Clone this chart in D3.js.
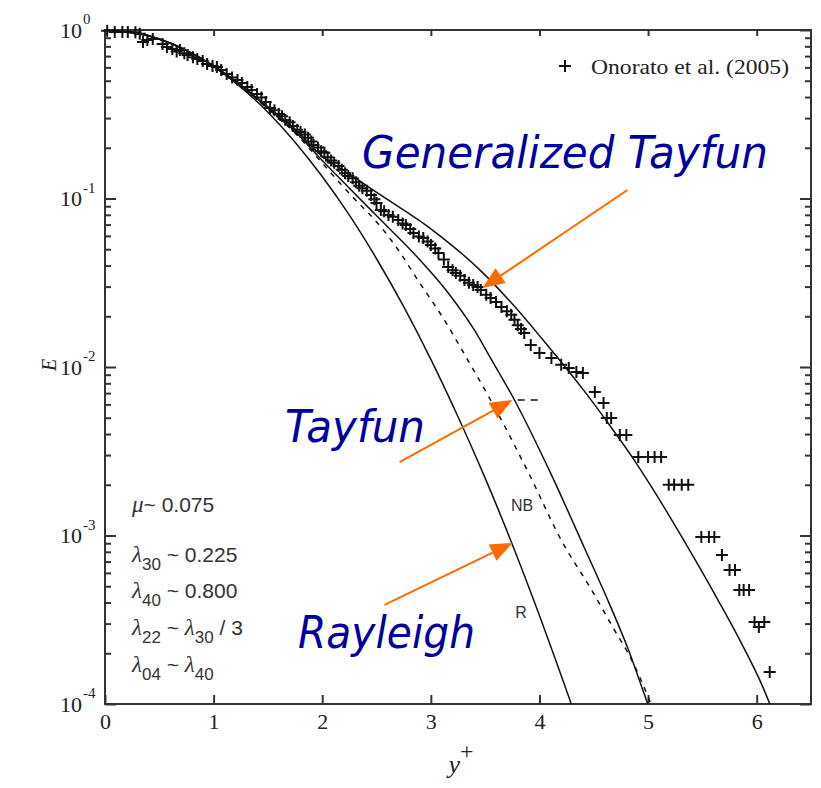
<!DOCTYPE html>
<html>
<head>
<meta charset="utf-8">
<script src="https://cdn.jsdelivr.net/npm/d3@7"></script>
<style>
  body { margin: 0; background: #fff; }
</style>
</head>
<body>
<div id="chart"></div>
<script>
// Onorato et al. (2005) exceedance points [y+, E]
var onorato = [
  [0.02,0.99],[0.09,0.973],[0.16,0.973],[0.21,0.973],[0.28,0.97],[0.32,0.95],[0.35,0.849],[0.39,0.872],
  [0.44,0.885],[0.53,0.826],[0.57,0.793],[0.62,0.771],[0.69,0.761],[0.76,0.711],[0.85,0.673],[0.94,0.628],
  [1.03,0.603],[1.12,0.548],[1.22,0.505],[1.31,0.459],[1.40,0.417],[1.48,0.374],[1.52,0.344],[1.60,0.317],
  [1.66,0.292],[1.73,0.269],[1.80,0.248],[1.87,0.229],[1.92,0.208],[1.99,0.191],[2.05,0.176],[2.11,0.163],
  [2.18,0.148],[2.24,0.136],[2.31,0.125],[2.37,0.115],[2.45,0.105],[2.50,0.094],[2.54,0.0855],[2.61,0.0798],
  [2.70,0.0745],[2.77,0.0696],[2.84,0.0624],[2.93,0.0583],[3.00,0.053],[3.07,0.0475],[3.16,0.0392],[3.23,0.0361],
  [3.31,0.0328],[3.39,0.0307],[3.46,0.0286],[3.55,0.0257],[3.65,0.0227],[3.74,0.0204],[3.80,0.0177],[3.86,0.0159],
  [3.92,0.0135],[4.00,0.0121],[4.11,0.0113],[4.20,0.0103],[4.27,0.00986],[4.34,0.00934],[4.40,0.00921],
  [4.51,0.00711],[4.59,0.00611],[4.62,0.00498],[4.66,0.00498],[4.74,0.00395],[4.80,0.00395],
  [4.91,0.00292],[5.00,0.00292],[5.06,0.00292],[5.12,0.00292],[5.19,0.002],[5.24,0.002],[5.31,0.002],[5.37,0.002],
  [5.49,0.00098],[5.56,0.00098],[5.61,0.00098],[5.68,0.000766],[5.75,0.000624],[5.80,0.000624],
  [5.84,0.000475],[5.88,0.000475],[5.93,0.000475],[5.98,0.000307],[6.02,0.000286],[6.07,0.000307],[6.12,0.000155]
];
// second row of crosses in the dense part of the band
var onoratoBand = [
  [0.66,0.745],[0.73,0.728],[0.81,0.69],[0.90,0.655],[0.99,0.612],[1.07,0.578],[1.17,0.522],[1.26,0.485],
  [1.35,0.44],[1.44,0.398],[1.56,0.334],[1.63,0.308],[1.70,0.283],[1.77,0.256],[1.84,0.24],[1.90,0.218],
  [1.96,0.201],[2.02,0.187],[2.08,0.168],[2.15,0.156],[2.21,0.141],[2.28,0.132],[2.34,0.119],[2.41,0.111],
  [2.48,0.099],[2.57,0.084],[2.65,0.078],[2.74,0.071],[2.81,0.066],[2.89,0.0595],[2.97,0.0555],[3.04,0.0505],
  [3.12,0.0435],[3.20,0.0375],[3.27,0.0348],[3.35,0.0316],[3.43,0.0298],[3.51,0.0268],[3.60,0.0243],
  [3.70,0.0214],[3.77,0.0191],[3.83,0.0168]
];

// model curves [y+, E]
var rayleigh = [
  [0,1],[0.25,0.969],[0.5,0.882],[0.75,0.755],[1,0.607],[1.25,0.458],[1.5,0.325],[1.75,0.216],[2,0.135],
  [2.25,0.0796],[2.5,0.0439],[2.75,0.0228],[3,0.0111],[3.25,0.00507],[3.5,0.00219],[3.75,0.000885],
  [4,0.000335],[4.15,0.000182],[4.3,0.0000972],[4.4,0.000063]
];
var tayfun = [
  [0,1],[0.5,0.885],[1,0.612],[1.5,0.345],[1.75,0.25],[2,0.168],[2.25,0.115],[2.54,0.0745],[2.84,0.0475],
  [3.16,0.0275],[3.4,0.0166],[3.55,0.0113],[3.77,0.00637],[4.11,0.00229],[4.41,0.000855],[4.64,0.000398],
  [4.82,0.000209],[4.96,0.000117],[5.05,0.00008]
];
var narrowBand = [
  [0,1],[0.5,0.885],[1,0.61],[1.5,0.34],[1.75,0.245],[2,0.162],[2.25,0.107],[2.54,0.0678],[2.7,0.0495],
  [2.88,0.0328],[3.12,0.0192],[3.34,0.011],[3.55,0.00637],[3.9,0.00235],[4.2,0.00094],[4.48,0.000475],
  [4.69,0.000275],[4.85,0.000182],[5.0,0.00011],[5.08,0.00008]
];
var genTayfun = [
  [0,1],[0.5,0.885],[1,0.615],[1.5,0.35],[1.75,0.258],[2,0.178],[2.25,0.1396],[2.54,0.1047],[3.0,0.0661],
  [3.46,0.0372],[3.77,0.0229],[4.02,0.0148],[4.2,0.0107],[4.41,0.00724],[4.64,0.00457],[4.86,0.00288],
  [5.03,0.00195],[5.22,0.00123],[5.43,0.000724],[5.65,0.000407],[5.86,0.000229],[6.05,0.000129],[6.15,0.00009]
];
var nbKey = [[3.80,0.00637],[4.03,0.00637]];

// tick labels
var xTicks = [0, 1, 2, 3, 4, 5, 6];
var yTicks = [1, 0.1, 0.01, 0.001, 0.0001];
var yExponents = ["0", "-1", "-2", "-3", "-4"];

// arrows: [from, to] in data units
var arrows = [
  [[4.81, 0.1123], [3.475, 0.02944]],
  [[2.712, 0.00273], [3.751, 0.00637]],
  [[2.574, 0.000387], [3.751, 0.000903]]
];

var margin = {top: 30, right: 10, bottom: 84, left: 105},
    width = 821 - margin.left - margin.right,
    height = 788 - margin.top - margin.bottom;

var x = d3.scaleLinear().domain([0, 6.5]).range([0, width]);
var y = d3.scaleLog().domain([1e-4, 1]).range([height, 0]);

var svg = d3.select("#chart").append("svg")
    .attr("width", 821)
    .attr("height", 788)
  .append("g")
    .attr("transform", "translate(" + margin.left + "," + margin.top + ")");

svg.append("defs").append("clipPath").attr("id", "plot")
  .append("rect").attr("width", width).attr("height", height);

var serif = "'Liberation Serif', 'Times New Roman', serif";
var sans = "'Liberation Sans', Arial, sans-serif";

function isMajor(d) {
  var l = Math.log10(d);
  return Math.abs(l - Math.round(l)) < 1e-6;
}

// y axes (left and right), ticks inside
var yAll = y.ticks();
var yl = svg.append("g").call(d3.axisLeft(y).tickValues(yAll).tickSize(-6).tickFormat(""));
var yr = svg.append("g").attr("transform", "translate(" + width + ",0)")
  .call(d3.axisRight(y).tickValues(yAll).tickSize(-6).tickFormat(""));
yl.selectAll(".tick line").filter(isMajor).attr("x2", 11);
yr.selectAll(".tick line").filter(isMajor).attr("x2", -11);

// x axes (bottom and top)
var xb = svg.append("g").attr("transform", "translate(0," + height + ")")
  .call(d3.axisBottom(x).tickValues(xTicks).tickSize(-9).tickPadding(9).tickFormat(d3.format("d")));
svg.append("g").call(d3.axisTop(x).tickValues(xTicks).tickSize(-6).tickFormat(""));
xb.selectAll("text").style("font-family", serif).style("font-size", "22px").attr("fill", "#222");

svg.selectAll(".domain").remove();
svg.selectAll(".tick line").attr("stroke", "#333").attr("stroke-width", 2);

// y tick labels 10^n
yTicks.forEach(function(v, i) {
  svg.append("text")
    .attr("x", -23).attr("y", y(v)).attr("dy", "0.36em")
    .attr("text-anchor", "end")
    .style("font-family", serif).style("font-size", "22px").attr("fill", "#222")
    .text("10");
  svg.append("text")
    .attr("x", -22).attr("y", y(v) - 6)
    .style("font-family", serif).style("font-size", "15px").attr("fill", "#222")
    .text(yExponents[i]);
});

// frame
svg.append("rect")
  .attr("width", width).attr("height", height)
  .attr("fill", "none").attr("stroke", "#333").attr("stroke-width", 2);

// curves
var line = d3.line()
  .x(function(d) { return x(d[0]); })
  .y(function(d) { return y(d[1]); })
  .curve(d3.curveMonotoneX);

var curves = svg.append("g").attr("clip-path", "url(#plot)");
[rayleigh, tayfun, genTayfun].forEach(function(s) {
  curves.append("path").datum(s).attr("d", line)
    .attr("fill", "none").attr("stroke", "#111").attr("stroke-width", 1.5);
});
curves.append("path").datum(narrowBand).attr("d", line)
  .attr("fill", "none").attr("stroke", "#111").attr("stroke-width", 1.5)
  .attr("stroke-dasharray", "5,6");
curves.append("path").datum(nbKey).attr("d", d3.line().x(function(d) { return x(d[0]); }).y(function(d) { return y(d[1]); }))
  .attr("fill", "none").attr("stroke", "#111").attr("stroke-width", 1.5)
  .attr("stroke-dasharray", "7,6");

// data points
var plus = "M-6,0H6M0,-6V6";
svg.append("g").selectAll("path")
  .data(onorato.concat(onoratoBand))
  .enter().append("path")
    .attr("d", plus)
    .attr("transform", function(d) { return "translate(" + x(d[0]) + "," + y(d[1]) + ")"; })
    .attr("fill", "none").attr("stroke", "#111").attr("stroke-width", 2);

// legend
svg.append("path").attr("d", plus).attr("transform", "translate(" + (565 - margin.left) + "," + (66 - margin.top) + ")")
  .attr("fill", "none").attr("stroke", "#111").attr("stroke-width", 2);
svg.append("text")
  .attr("x", 591 - margin.left).attr("y", 74 - margin.top)
  .attr("textLength", 198).attr("lengthAdjust", "spacingAndGlyphs")
  .style("font-family", serif).style("font-size", "22px").attr("fill", "#222")
  .text("Onorato et al. (2005)");

// orange arrows
var orange = "#ff6a00";
arrows.forEach(function(a) {
  var x1 = x(a[0][0]), y1 = y(a[0][1]), x2 = x(a[1][0]), y2 = y(a[1][1]);
  var ang = Math.atan2(y2 - y1, x2 - x1), L = 22, w = 9;
  var bx = x2 - L * Math.cos(ang), by = y2 - L * Math.sin(ang);
  svg.append("line").attr("x1", x1).attr("y1", y1).attr("x2", bx).attr("y2", by)
    .attr("stroke", orange).attr("stroke-width", 2);
  svg.append("path")
    .attr("d", "M" + x2 + "," + y2 +
      "L" + (bx + w * Math.sin(ang)) + "," + (by - w * Math.cos(ang)) +
      "L" + (bx - w * Math.sin(ang)) + "," + (by + w * Math.cos(ang)) + "Z")
    .attr("fill", orange);
});

// blue labels
var blue = "#0000a0";
function blueLabel(t, px, py, len) {
  svg.append("text")
    .attr("x", px - margin.left).attr("y", py - margin.top)
    .attr("textLength", len).attr("lengthAdjust", "spacingAndGlyphs")
    .style("font-family", "'DejaVu Sans', Verdana, sans-serif").style("font-style", "italic")
    .style("font-size", "45px").attr("fill", blue)
    .text(t);
}
blueLabel("Generalized Tayfun", 362, 168, 406);
blueLabel("Tayfun", 285, 442, 140);
blueLabel("Rayleigh", 298, 648, 177);

// curve tags
svg.append("text").attr("x", 522 - margin.left).attr("y", 511 - margin.top).attr("text-anchor", "middle")
  .style("font-family", sans).style("font-size", "16px").attr("fill", "#333").text("NB");
svg.append("text").attr("x", 521 - margin.left).attr("y", 618 - margin.top).attr("text-anchor", "middle")
  .style("font-family", sans).style("font-size", "16px").attr("fill", "#333").text("R");

// parameter block
var params = [
  {y: 512, parts: [["g", "\u03bc"], ["t", "~ 0.075"]]},
  {y: 562, parts: [["g", "\u03bb"], ["s", "30"], ["t", " ~ 0.225"]]},
  {y: 598, parts: [["g", "\u03bb"], ["s", "40"], ["t", " ~ 0.800"]]},
  {y: 635, parts: [["g", "\u03bb"], ["s", "22"], ["t", " ~ "], ["g", "\u03bb"], ["s", "30"], ["t", " / 3"]]},
  {y: 672, parts: [["g", "\u03bb"], ["s", "04"], ["t", " ~ "], ["g", "\u03bb"], ["s", "40"]]}
];
params.forEach(function(p) {
  var t = svg.append("text").attr("x", 132 - margin.left).attr("y", p.y - margin.top)
    .style("font-family", sans).style("font-size", "21px").attr("fill", "#333");
  var shifted = false;
  p.parts.forEach(function(q) {
    var ts = t.append("tspan").text(q[1]);
    if (q[0] === "g") {
      ts.style("font-family", serif).style("font-style", "italic").style("font-size", "23px");
    }
    if (q[0] === "s") {
      ts.style("font-size", "17px").attr("dy", 8);
      shifted = true;
    } else if (shifted) {
      ts.attr("dy", -8);
      shifted = false;
    }
  });
});

// axis titles
svg.append("text")
  .attr("x", 461 - margin.left).attr("y", 773 - margin.top).attr("text-anchor", "middle")
  .style("font-family", serif).style("font-style", "italic").style("font-size", "26px").attr("fill", "#222")
  .text("y")
  .append("tspan").attr("dy", -14).style("font-style", "normal").style("font-size", "24px").text("+");
svg.append("text")
  .attr("transform", "translate(" + (56 - margin.left) + "," + (365 - margin.top) + ") rotate(-90)")
  .attr("text-anchor", "middle")
  .style("font-family", serif).style("font-style", "italic").style("font-size", "20px").attr("fill", "#222")
  .text("E");
</script>
</body>
</html>
